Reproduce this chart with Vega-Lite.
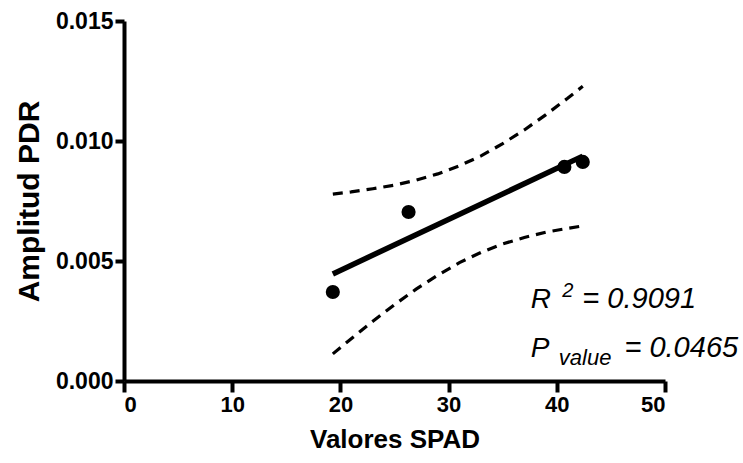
{
  "$schema": "https://vega.github.io/schema/vega-lite/v6.json",
  "width": 541,
  "height": 360,
  "autosize": {"type": "none"},
  "padding": {"left": 124, "top": 21, "right": 78, "bottom": 82},
  "background": "white",
  "config": {
    "view": {"stroke": null},
    "font": "Liberation Sans"
  },
  "datasets": {
    "points": [
      {"spad": 19.3, "pdr": 0.00371},
      {"spad": 26.3, "pdr": 0.00704},
      {"spad": 40.7, "pdr": 0.00892},
      {"spad": 42.4, "pdr": 0.00913}
    ],
    "fit": [
      {"spad": 19.3, "pdr": 0.00446},
      {"spad": 42.4, "pdr": 0.00937}
    ],
    "band": [
      {"bound": "upper", "spad": 19.3, "pdr": 0.00779},
      {"bound": "upper", "spad": 21, "pdr": 0.00788},
      {"bound": "upper", "spad": 23, "pdr": 0.00801},
      {"bound": "upper", "spad": 25, "pdr": 0.00816},
      {"bound": "upper", "spad": 27, "pdr": 0.00837},
      {"bound": "upper", "spad": 29, "pdr": 0.00863},
      {"bound": "upper", "spad": 31, "pdr": 0.00897},
      {"bound": "upper", "spad": 33, "pdr": 0.00938},
      {"bound": "upper", "spad": 35, "pdr": 0.00989},
      {"bound": "upper", "spad": 37, "pdr": 0.01046},
      {"bound": "upper", "spad": 39, "pdr": 0.0111},
      {"bound": "upper", "spad": 41, "pdr": 0.01178},
      {"bound": "upper", "spad": 42.4, "pdr": 0.01228},
      {"bound": "lower", "spad": 19.3, "pdr": 0.00113},
      {"bound": "lower", "spad": 21, "pdr": 0.00176},
      {"bound": "lower", "spad": 23, "pdr": 0.00249},
      {"bound": "lower", "spad": 25, "pdr": 0.00318},
      {"bound": "lower", "spad": 27, "pdr": 0.00383},
      {"bound": "lower", "spad": 29, "pdr": 0.00441},
      {"bound": "lower", "spad": 31, "pdr": 0.00493},
      {"bound": "lower", "spad": 33, "pdr": 0.00536},
      {"bound": "lower", "spad": 35, "pdr": 0.00571},
      {"bound": "lower", "spad": 37, "pdr": 0.00598},
      {"bound": "lower", "spad": 39, "pdr": 0.0062},
      {"bound": "lower", "spad": 41, "pdr": 0.00636},
      {"bound": "lower", "spad": 42.4, "pdr": 0.00646}
    ],
    "labels": [
      {"spad": 37.59, "pdr": 0.00304, "txt": "R", "role": "lead"},
      {"spad": 40.5, "pdr": 0.0035, "txt": "2", "role": "sup"},
      {"spad": 52.87, "pdr": 0.00304, "txt": "= 0.9091", "role": "tail"},
      {"spad": 37.59, "pdr": 0.001, "txt": "P", "role": "lead"},
      {"spad": 40.19, "pdr": 0.00067, "txt": "value", "role": "sub"},
      {"spad": 56.76, "pdr": 0.001, "txt": "= 0.0465", "role": "tail"}
    ]
  },
  "layer": [
    {
      "data": {"name": "band"},
      "mark": {"type": "line", "color": "black", "strokeWidth": 3.2, "strokeDash": [10, 7]},
      "encoding": {
        "x": {
          "field": "spad", "type": "quantitative",
          "scale": {"domain": [0, 50], "nice": false},
          "axis": {
            "title": "Valores SPAD",
            "values": [0, 10, 20, 30, 40, 50],
            "grid": false,
            "domainColor": "black", "domainWidth": 4,
            "tickColor": "black", "tickWidth": 4, "tickSize": 11,
            "labelFont": "Liberation Sans", "labelFontWeight": "bold", "labelFontSize": 22, "labelColor": "black",
            "labelPadding": 2,
            "titleFont": "Liberation Sans", "titleFontWeight": "bold", "titleFontSize": 26, "titleColor": "black",
            "titlePadding": 11
          }
        },
        "y": {
          "field": "pdr", "type": "quantitative",
          "scale": {"domain": [0, 0.015], "nice": false},
          "axis": {
            "title": "Amplitud PDR",
            "values": [0, 0.005, 0.01, 0.015],
            "format": ".3f",
            "grid": false,
            "domainColor": "black", "domainWidth": 4,
            "tickColor": "black", "tickWidth": 4, "tickSize": 9,
            "labelFont": "Liberation Sans", "labelFontWeight": "bold", "labelFontSize": 23, "labelColor": "black",
            "labelPadding": 2,
            "titleFont": "Liberation Sans", "titleFontWeight": "bold", "titleFontSize": 30, "titleColor": "black",
            "titlePadding": 11
          }
        },
        "detail": {"field": "bound"}
      }
    },
    {
      "data": {"name": "fit"},
      "mark": {"type": "line", "color": "black", "strokeWidth": 5.5},
      "encoding": {
        "x": {"field": "spad", "type": "quantitative"},
        "y": {"field": "pdr", "type": "quantitative"}
      }
    },
    {
      "data": {"name": "points"},
      "mark": {"type": "circle", "color": "black", "opacity": 1, "size": 200},
      "encoding": {
        "x": {"field": "spad", "type": "quantitative"},
        "y": {"field": "pdr", "type": "quantitative"}
      }
    },
    {
      "data": {"name": "labels"},
      "transform": [{"filter": "datum.role === 'lead'"}],
      "mark": {"type": "text", "align": "left", "baseline": "alphabetic", "font": "Liberation Sans", "fontStyle": "italic", "fontSize": 28, "color": "black"},
      "encoding": {
        "x": {"field": "spad", "type": "quantitative"},
        "y": {"field": "pdr", "type": "quantitative"},
        "text": {"field": "txt"}
      }
    },
    {
      "data": {"name": "labels"},
      "transform": [{"filter": "datum.role === 'tail'"}],
      "mark": {"type": "text", "align": "right", "baseline": "alphabetic", "font": "Liberation Sans", "fontStyle": "italic", "fontSize": 29, "color": "black"},
      "encoding": {
        "x": {"field": "spad", "type": "quantitative"},
        "y": {"field": "pdr", "type": "quantitative"},
        "text": {"field": "txt"}
      }
    },
    {
      "data": {"name": "labels"},
      "transform": [{"filter": "datum.role === 'sup'"}],
      "mark": {"type": "text", "align": "left", "baseline": "alphabetic", "font": "Liberation Sans", "fontStyle": "italic", "fontSize": 20, "color": "black"},
      "encoding": {
        "x": {"field": "spad", "type": "quantitative"},
        "y": {"field": "pdr", "type": "quantitative"},
        "text": {"field": "txt"}
      }
    },
    {
      "data": {"name": "labels"},
      "transform": [{"filter": "datum.role === 'sub'"}],
      "mark": {"type": "text", "align": "left", "baseline": "alphabetic", "font": "Liberation Sans", "fontStyle": "italic", "fontSize": 22, "color": "black"},
      "encoding": {
        "x": {"field": "spad", "type": "quantitative"},
        "y": {"field": "pdr", "type": "quantitative"},
        "text": {"field": "txt"}
      }
    }
  ]
}
